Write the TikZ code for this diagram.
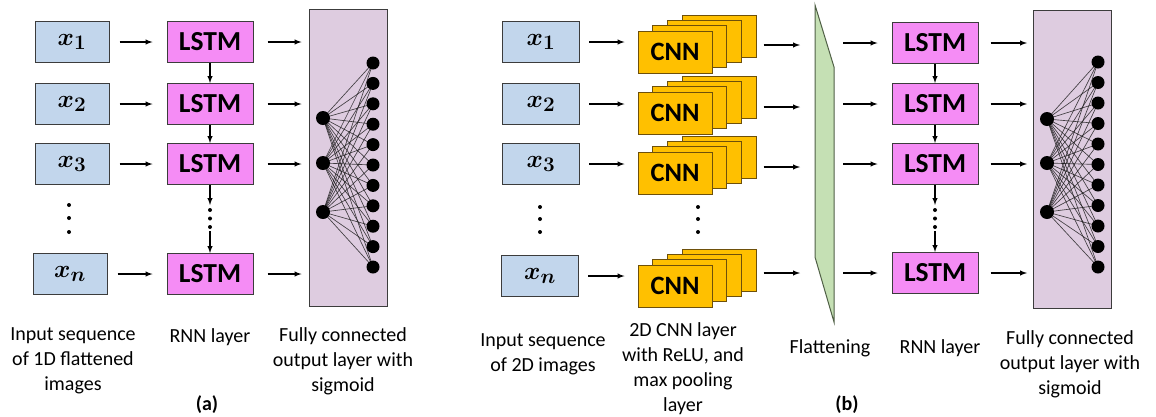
\documentclass[tikz,border=0pt]{standalone}
\usepackage{fontspec}
\setmainfont{Carlito}
\usepackage{amsmath}
\usepackage{bm}
\usetikzlibrary{calc}
\definecolor{inblue}{RGB}{194,214,236}
\definecolor{lstmpink}{RGB}{245,140,245}
\definecolor{cnngold}{RGB}{255,192,0}
\definecolor{cnnline}{RGB}{110,80,10}
\definecolor{fcpurple}{RGB}{222,204,224}
\definecolor{flatgreen}{RGB}{197,224,180}
\definecolor{flatline}{RGB}{80,96,70}
\definecolor{boxline}{RGB}{60,60,60}

\begin{document}
\begin{tikzpicture}[x=1pt, y=-1pt]

        % Setup the styles for the blocks
        \tikzset{in box/.style={draw=boxline, line width=1pt, fill=inblue,
                                minimum width=74pt, minimum height=41pt, inner sep=0pt,
                                font=\fontsize{28}{28}\selectfont},
                 lstm box/.style={draw=boxline, line width=1pt, fill=lstmpink,
                                  minimum width=86pt, minimum height=41pt, inner sep=0pt,
                                  font=\fontsize{27.5}{27.5}\selectfont\bfseries},
                 cnn box/.style={draw=cnnline, line width=1pt, fill=cnngold,
                                 minimum width=74pt, minimum height=42pt, inner sep=0pt,
                                 font=\fontsize{26.5}{26.5}\selectfont\bfseries},
                 fc panel/.style={draw=boxline, line width=1pt, fill=fcpurple,
                                  minimum width=78pt, minimum height=297pt, inner sep=0pt},
                 neuron/.style={circle, fill=black, inner sep=0pt, minimum size=13pt},
                 vdot/.style={circle, fill=black, inner sep=0pt, minimum size=4pt},
                 caption/.style={align=center, font=\fontsize{20}{25}\selectfont},
                 arr/.style={->, >=latex, line width=1.4pt},
                 wire/.style={black!90, line width=0.65pt, opacity=0.8}}

        \useasboundingbox (0,0) rectangle (1156,416);

        % ---------------- (a) ----------------
        % Inputs and LSTM cells
        \foreach \i/\x/\y/\s in {1/72/42/1, 2/72/104/2, 3/72/164/3, 4/70/274/n} {
            \node[in box] at (\x,\y) (ax\i) {$\bm{x_{\s}}$};
            \node[lstm box] at (210,\y) (al\i) {LSTM};
        }
        \node[fc panel] at (348,157.5) (afc) {};

        % Dots
        \foreach \i/\y in {1/205, 2/218, 3/232}
            \node[vdot] at (69,\y) (axd\i) {};
        \foreach \i/\y in {1/210, 2/218.5, 3/227}
            \node[vdot] at (210,\y) (ald\i) {};
        \coordinate (ald top) at (210,205);
        \coordinate (ald bot) at (210,231);

        % Connect the blocks with arrows
        \foreach \i in {1,...,4} {
            \draw[arr, shorten <=10pt, shorten >=14pt] (ax\i) -- (al\i);
            \draw[arr, shorten <=14pt, shorten >=7pt] (al\i.east) -- (al\i.east -| afc.west);
        }
        \draw[arr] (al1) -- (al2);
        \draw[arr] (al2) -- (al3);
        \draw[arr] (al3) -- (ald top);
        \draw[arr] (ald bot) -- (al4);

        % Output layer
        \foreach \j/\y in {1/118, 2/163, 3/212}
            \coordinate (ain\j) at (323,\y);
        \foreach \k in {1,...,11}
            \coordinate (aout\k) at (373,{63+20.4*(\k-1)});
        \foreach \j in {1,2,3}
            \foreach \k in {1,...,11}
                \draw[wire] (ain\j) -- (aout\k);
        \foreach \j in {1,2,3}
            \node[neuron, minimum size=14pt] at (ain\j) {};
        \foreach \k in {1,...,11}
            \node[neuron] at (aout\k) {};

        % Captions
        \node[caption] at (73,361) (acap1) {Input sequence\\of 1D flattened\\images};
        \node[caption] at (210,337) (acap2) {RNN layer};
        \node[caption] at (343,361) (acap3) {Fully connected\\output layer with\\sigmoid};
        \node[caption, font=\fontsize{20}{25}\selectfont\bfseries] at (207,405) (alabel) {(a)};

        % ---------------- (b) ----------------
        % Inputs, CNN stacks and LSTM cells
        \foreach \i/\x/\y/\c/\l/\s in {1/541/42/52/43/1, 2/541/104/113/104/2,
                                      3/541/164/173/164/3, 4/540/276/286/273/n} {
            \node[in box, minimum width=77pt] at (\x,\y) (bx\i) {$\bm{x_{\s}}$};
            \foreach \k in {3,2,1}
                \node[cnn box] at ({675+14.7*\k},{\c-5.3*\k}) (bc\i\k) {};
            \node[cnn box] at (675,\c) (bc\i) {CNN};
            \node[lstm box] at (935,\l) (bl\i) {LSTM};
        }
        \node[fc panel, minimum height=298pt] at (1072.5,159) (bfc) {};

        % Flattening
        \draw[draw=flatline, line width=1pt, fill=flatgreen]
            (815,5) -- (834,67) -- (834,322) -- (815,257) -- cycle;

        % Dots
        \foreach \i/\y in {1/207, 2/219, 3/232} {
            \node[vdot] at (540,\y) (bxd\i) {};
            \node[vdot] at (698,\y) (bcd\i) {};
        }
        \foreach \i/\y in {1/210, 2/218.5, 3/227}
            \node[vdot] at (935,\y) (bld\i) {};
        \coordinate (bld top) at (935,205);
        \coordinate (bld bot) at (935,231);

        % Connect the blocks with arrows
        \foreach \i/\y/\z in {1/45/43, 2/107/104, 3/167/164, 4/273/273} {
            \draw[arr, shorten <=9pt, shorten >=13pt] (bx\i.east) -- (bx\i.east -| bc\i.west);
            \coordinate (bfin\i) at (800,\y);
            \coordinate (bfout\i) at (843,\z);
            \draw[arr, shorten <=7pt] (bc\i3.east |- bfin\i) -- (bfin\i);
            \draw[arr, shorten >=14pt] (bfout\i) -- (bl\i);
            \draw[arr, shorten <=12pt, shorten >=6pt] (bl\i.east) -- (bl\i.east -| bfc.west);
        }
        \draw[arr] (bl1) -- (bl2);
        \draw[arr] (bl2) -- (bl3);
        \draw[arr] (bl3) -- (bld top);
        \draw[arr] (bld bot) -- (bl4);

        % Output layer
        \foreach \j/\y in {1/119, 2/163, 3/212}
            \coordinate (bin\j) at (1047,\y);
        \foreach \k in {1,...,11}
            \coordinate (bout\k) at (1098,{62+20.5*(\k-1)});
        \foreach \j in {1,2,3}
            \foreach \k in {1,...,11}
                \draw[wire] (bin\j) -- (bout\k);
        \foreach \j in {1,2,3}
            \node[neuron, minimum size=14pt] at (bin\j) {};
        \foreach \k in {1,...,11}
            \node[neuron] at (bout\k) {};

        % Captions
        \node[caption] at (543,354.5) (bcap1) {Input sequence\\of 2D images};
        \node[caption] at (683,368.5) (bcap2) {2D CNN layer\\with ReLU, and\\max pooling\\layer};
        \node[caption] at (830,348) (bcap3) {Flattening};
        \node[caption] at (940,348) (bcap4) {RNN layer};
        \node[caption] at (1070,364) (bcap5) {Fully connected\\output layer with\\sigmoid};
        \node[caption, font=\fontsize{20}{25}\selectfont\bfseries] at (847,405) (blabel) {(b)};

\end{tikzpicture}
\end{document}
